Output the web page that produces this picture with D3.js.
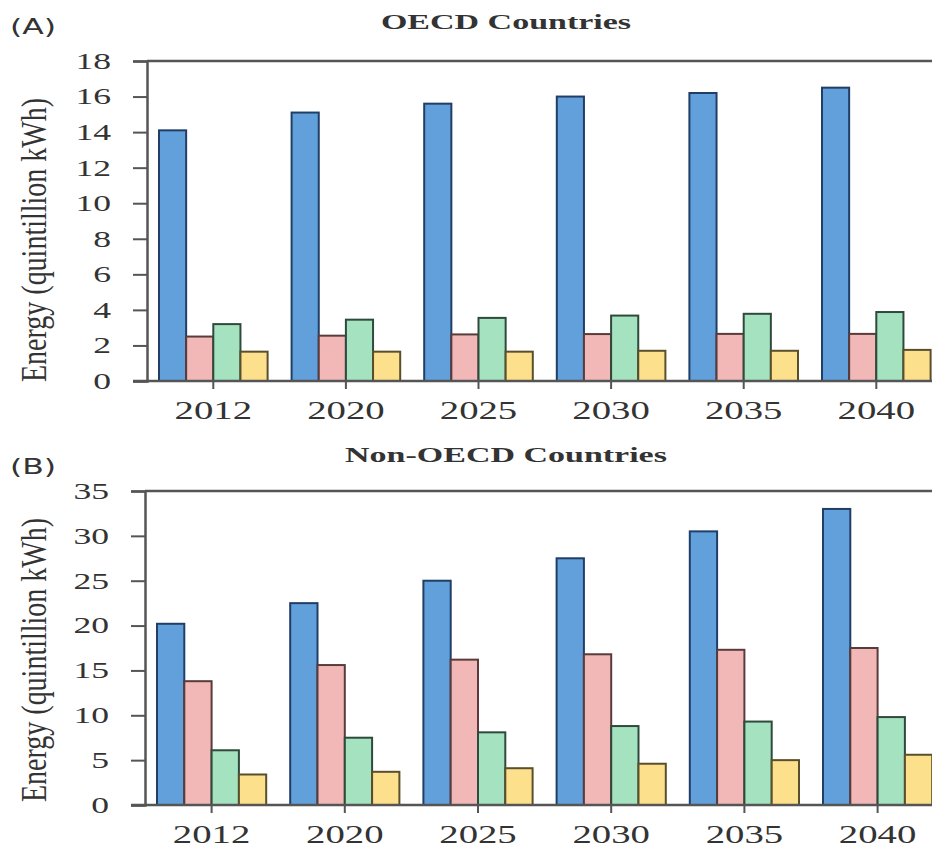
<!DOCTYPE html>
<html>
<head>
<meta charset="utf-8">
<script src="https://cdn.jsdelivr.net/npm/d3@7"></script>
<style>
  body { margin: 0; background: #fff; }
  text { font-family: "Liberation Serif", "DejaVu Serif", serif; fill: #333; }
</style>
</head>
<body>
<svg id="chart" width="932" height="854"></svg>
<script>
// Data

var years = ['2012', '2020', '2025', '2030', '2035', '2040'];
var series = ['s1', 's2', 's3', 's4'];

var oecdBlue   = [14.1, 15.1, 15.6, 16.0, 16.2, 16.5];
var oecdPink   = [2.5, 2.55, 2.62, 2.64, 2.65, 2.65];
var oecdGreen  = [3.2, 3.45, 3.55, 3.68, 3.78, 3.88];
var oecdYellow = [1.65, 1.65, 1.65, 1.7, 1.7, 1.75];

var nonBlue   = [20.2, 22.5, 25.0, 27.5, 30.5, 33.0];
var nonPink   = [13.8, 15.6, 16.2, 16.8, 17.3, 17.5];
var nonGreen  = [6.1, 7.5, 8.1, 8.8, 9.3, 9.8];
var nonYellow = [3.4, 3.7, 4.1, 4.6, 5.0, 5.6];

var oecdTicks = [0, 2, 4, 6, 8, 10, 12, 14, 16, 18];
var nonTicks  = [0, 5, 10, 15, 20, 25, 30, 35];

var fills   = ['#62a0dc', '#f2b8b8', '#a5e2bf', '#fde08c'];
var strokes = ['#213e66', '#5a3b3b', '#2f4a3c', '#5a4f2c'];

var stretch = 1.55;   // the source text is wide, squeeze it out sideways

var svg = d3.select('#chart');

// Draw one panel

function panel(opts) {

  var g = svg.append('g');

  var y = d3.scaleLinear()
      .domain([0, opts.max])
      .range([opts.bottom, opts.top]);

  var x = d3.scaleBand()
      .domain(years)
      .range([opts.left, opts.left + 6 * opts.step])
      .paddingInner(24 / opts.step)
      .paddingOuter(12 / opts.step);

  var xs = d3.scaleBand()
      .domain(series)
      .range([0, x.bandwidth()]);

  var rows = years.map(function (yr, i) {
    return { year: yr, vals: opts.values.map(function (arr) { return arr[i]; }) };
  });

  // bars
  var groups = g.selectAll('g.grp')
      .data(rows)
      .enter().append('g')
      .attr('class', 'grp')
      .attr('transform', function (d) { return 'translate(' + x(d.year) + ',0)'; });

  groups.selectAll('rect')
      .data(function (d) { return d.vals; })
      .enter().append('rect')
      .attr('x', function (d, i) { return xs(series[i]); })
      .attr('width', xs.bandwidth())
      .attr('y', function (d) { return y(d); })
      .attr('height', function (d) { return opts.bottom - y(d); })
      .attr('fill', function (d, i) { return fills[i]; })
      .attr('stroke', function (d, i) { return strokes[i]; })
      .attr('stroke-width', 2);

  // top border
  g.append('line')
      .attr('x1', opts.left).attr('x2', 932)
      .attr('y1', opts.top).attr('y2', opts.top)
      .attr('stroke', '#555').attr('stroke-width', 2.5);

  // y axis
  var yAxis = g.append('g')
      .attr('transform', 'translate(' + opts.left + ',0)')
      .call(d3.axisLeft(y).tickValues(opts.ticks).tickSize(14).tickPadding(22));
  yAxis.select('.domain').attr('stroke', '#555').attr('stroke-width', 2.5);
  yAxis.selectAll('.tick line').attr('stroke', '#555').attr('stroke-width', 2);
  yAxis.selectAll('.tick text')
      .attr('x', -36 / stretch)
      .attr('transform', 'scale(' + stretch + ',1)')
      .style('font-family', '"Liberation Serif", serif')
      .style('font-size', '23px')
      .attr('fill', '#3a3a3a');

  // x axis baseline + ticks
  var xAxis = g.append('g')
      .attr('transform', 'translate(0,' + opts.bottom + ')')
      .call(d3.axisBottom(x).tickSize(8).tickPadding(12).tickSizeOuter(0));
  xAxis.select('.domain').attr('d', 'M' + (opts.left - 14) + ',0H932')
      .attr('stroke', '#555').attr('stroke-width', 2.5);
  xAxis.selectAll('.tick line').attr('stroke', '#555').attr('stroke-width', 2);
  xAxis.selectAll('.tick text')
      .attr('transform', 'scale(' + stretch + ',1)')
      .style('font-family', '"Liberation Serif", serif')
      .style('font-size', '25px')
      .attr('fill', '#3a3a3a');

  // titles
  g.append('text')
      .attr('transform', 'translate(' + opts.titleX + ',' + opts.titleY + ') scale(1.7,1)')
      .attr('text-anchor', 'middle')
      .style('font-size', '20px')
      .style('font-weight', 'bold')
      .text(opts.title);

  g.append('text')
      .attr('transform', 'translate(10,' + opts.letterY + ') scale(1.5,1)')
      .style('font-family', '"DejaVu Sans", sans-serif')
      .style('font-size', '21px')
      .text(opts.letter);

  g.append('text')
      .attr('transform', 'translate(' + 46 + ',' + opts.labelY + ') rotate(-90) scale(1,1.25)')
      .attr('text-anchor', 'middle')
      .style('font-size', '28px')
      .text('Energy (quintillion kWh)');
}

panel({
  values: [oecdBlue, oecdPink, oecdGreen, oecdYellow],
  ticks: oecdTicks, max: 18,
  top: 61, bottom: 381, left: 147, step: 132.6,
  title: 'OECD Countries', titleX: 506, titleY: 29,
  letter: '(A)', letterY: 34, labelY: 240
});

panel({
  values: [nonBlue, nonPink, nonGreen, nonYellow],
  ticks: nonTicks, max: 35,
  top: 491, bottom: 805, left: 145, step: 133.2,
  title: 'Non-OECD Countries', titleX: 506, titleY: 462,
  letter: '(B)', letterY: 474, labelY: 660
});
</script>
</body>
</html>
